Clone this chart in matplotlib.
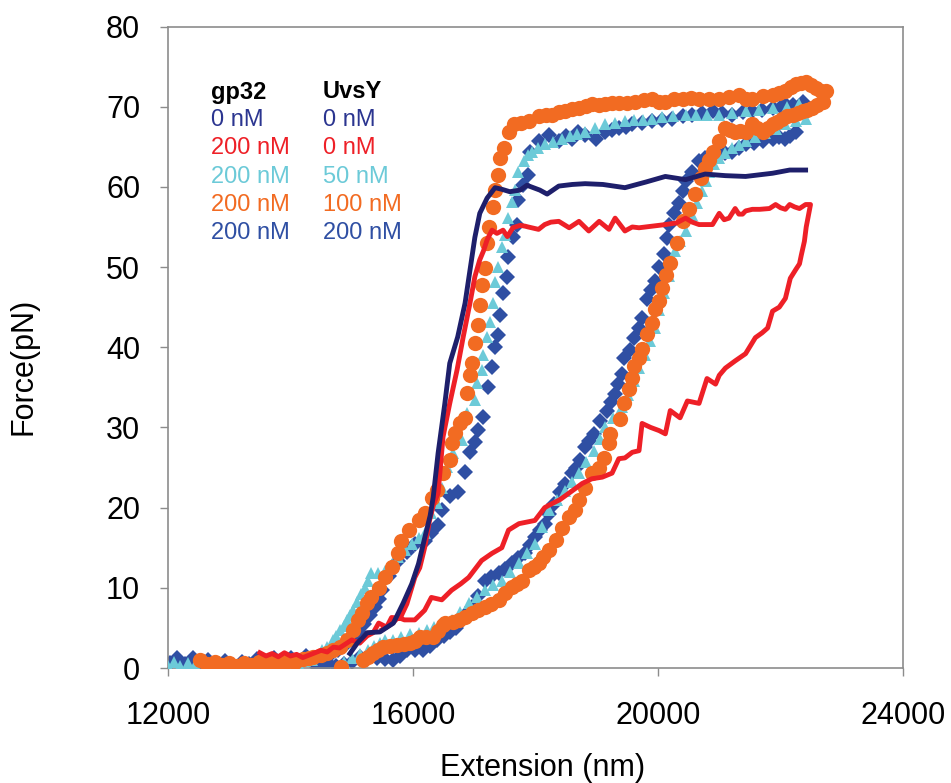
import matplotlib
matplotlib.use("Agg")
import matplotlib.pyplot as plt

plt.rcParams['font.family'] = ['Liberation Sans', 'DejaVu Sans']

# ---------------- data ----------------
# gp32 0 nM / UvsY 0 nM (navy line)
navy_x = [14970, 15090, 15250, 15460, 15680, 15840, 15980, 16090, 16200, 16280, 16330, 16410,
          16520, 16600, 16730, 16850, 16930, 17010, 17090, 17210, 17340, 17450, 17580, 17750,
          17860, 18070, 18190, 18380, 18600, 18810, 19100, 19460, 19800, 20120, 20450, 20770,
          21100, 21430, 21870, 22150, 22410]
navy_y = [1.8, 3.1, 4.4, 4.5, 5.6, 8.1, 10.5, 13.0, 16.5, 19.0, 21.3, 26.8,
          33.0, 38.0, 41.3, 45.5, 49.6, 53.7, 56.7, 58.6, 59.9, 59.7, 59.4, 59.6,
          60.2, 59.6, 59.1, 60.1, 60.3, 60.4, 60.3, 59.9, 60.6, 61.3, 60.9, 61.6,
          61.4, 61.3, 61.7, 62.1, 62.1]

# gp32 200 nM / UvsY 0 nM (red line)
red_x = [13500, 13600, 13700, 13800, 13900, 14000, 14100, 14200, 14300, 14400, 14500, 14600,
         14700, 14800, 14900, 15000, 15130, 15250, 15350, 15440, 15570, 15650, 15790, 15900,
         16030, 16110, 16190, 16270, 16340, 16410, 16490, 16600, 16720, 16820, 16930, 17010,
         17090, 17150, 17210, 17290, 17370, 17470, 17540, 17630, 17750, 17830, 17880, 18050,
         18150, 18250, 18380, 18550, 18710, 18870, 19040, 19200, 19300, 19460, 19580, 19690,
         19900, 20120, 20300, 20450, 20560, 20670, 20890, 21000, 21080, 21160, 21260, 21320,
         21380, 21430, 21540, 21660, 21820, 21920, 22000, 22080, 22150, 22230, 22310, 22410,
         22490,
         22470, 22420, 22390, 22340, 22310, 22250, 22160, 22080, 21980, 21870, 21790, 21700,
         21590, 21430, 21260, 21100, 21000, 20940, 20800, 20670, 20480, 20360, 20200, 20120,
         20020, 19880, 19740, 19690, 19580, 19460, 19360, 19250, 19090, 18920, 18760, 18600,
         18400, 18220, 18150, 17990, 17730, 17560, 17450, 17290, 17120, 16910, 16780, 16630,
         16470, 16300, 16190, 16030, 15860, 15760, 15650, 15500]
red_y = [1.9, 1.5, 1.8, 1.4, 1.9, 1.5, 1.7, 1.3, 1.6, 1.9, 2.2, 2.0,
         2.6, 2.5, 3.0, 3.5, 3.1, 4.0, 4.4, 5.6, 5.1, 6.3, 6.2, 8.0,
         11.3, 12.5, 15.0, 18.4, 20.5, 21.8, 28.8, 33.0, 37.2, 41.3, 45.5, 48.8,
         50.9, 52.0, 53.4, 54.6, 54.2, 54.6, 53.8, 54.9, 55.2, 55.1, 55.0, 54.7,
         55.3, 55.6, 55.7, 54.9, 55.7, 54.5, 55.7, 54.7, 56.1, 54.5, 55.0, 54.9,
         55.1, 55.3, 55.5, 56.1, 55.6, 55.3, 55.3, 56.7, 55.9, 56.1, 57.3, 56.6,
         56.6, 57.0, 57.2, 57.2, 57.3, 57.8, 57.4, 57.2, 57.8, 57.5, 57.3, 57.8,
         57.8,
         57.0, 55.0, 53.2, 51.5, 50.4, 49.7, 48.6, 46.1, 45.0, 44.5, 42.4, 41.8,
         41.2, 39.2, 38.3, 37.4, 36.5, 35.4, 36.1, 33.0, 33.3, 31.2, 32.1, 29.2,
         29.6, 30.0, 30.5, 27.1, 26.9, 26.2, 26.1, 24.3, 23.8, 23.6, 23.0, 22.1,
         21.0, 20.3, 20.0, 18.4, 18.0, 17.2, 15.0, 14.3, 13.4, 11.3, 10.5, 9.7,
         8.5, 8.8, 7.2, 6.0, 6.0, 6.3, 5.5, 4.8]

# gp32 200 nM / UvsY 50 nM (cyan triangles)
cyan_x = [12000, 12100, 12200, 12320, 12440, 12560, 12680, 12800, 12920, 13040, 13160, 13280,
          13400, 13520, 13640, 13760, 13880, 14000, 14120, 14240, 14350, 14430, 14520, 14600,
          14690, 14750, 14810, 14870, 14920, 14970, 15020, 15090, 15150, 15210, 15270, 15320,
          15430, 15540, 15650, 15760, 15870, 15980, 16090, 16190, 16300, 16390, 16470, 16550,
          16650, 16800, 16880, 17010, 17040, 17130, 17140, 17210, 17260, 17310, 17340, 17390,
          17450, 17500, 17550, 17620, 17670, 17710, 17810, 17870, 17940, 18040, 18150, 18290,
          18430, 18560, 18680, 18810, 18970, 19140, 19300, 19460, 19600, 19750, 19900, 20060,
          20250, 20450, 20620, 20800, 21000, 21200, 21430, 21650, 21870, 22100, 22310,
          22410, 22250, 22080, 21920, 21750, 21590, 21430, 21320, 21210, 21100, 21000, 20920,
          20840, 20780, 20720, 20640, 20560, 20450, 20360, 20280, 20180, 20100, 20020, 19950,
          19870, 19780, 19690, 19600, 19510, 19410, 19270, 19140, 19050, 18950, 18830, 18710,
          18600, 18480, 18350, 18220, 18100, 17990, 17860, 17730, 17590, 17450, 17310, 17170,
          17040, 16910, 16770, 16630, 16490, 16350, 16230, 16090, 15950, 15810, 15680, 15540,
          15460, 15370, 15270, 15130, 15000, 14880]
cyan_y = [0.2, 0.8, 0.3, 0.6, 0.4, 0.7, 0.3, 0.5, 0.2, 0.6, 0.4, 0.5,
          0.3, 0.6, 0.4, 0.7, 0.5, 0.8, 0.6, 0.9, 1.0, 1.5, 2.2, 2.6,
          3.5, 4.0, 4.7, 5.3, 6.0, 6.6, 7.2, 8.2, 9.2, 10.0, 10.9, 11.8,
          11.9, 12.1, 13.0, 13.8, 14.7, 15.5, 16.2, 16.8, 19.3, 20.6, 22.5, 25.1,
          26.8, 28.4, 31.8, 33.4, 35.5, 37.2, 39.0, 41.3, 43.1, 45.5, 48.1, 50.0,
          52.5, 54.0, 56.1, 58.1, 59.6, 61.8, 63.2, 64.0, 64.4, 64.9, 65.3, 65.6,
          66.0, 66.4, 66.6, 66.9, 67.3, 67.8, 68.0, 68.2, 68.3, 68.4, 68.5, 68.7,
          68.8, 69.0, 69.0, 69.0, 69.0, 69.2, 69.4, 69.6, 69.8, 70.0, 70.3,
          68.5, 68.2, 67.8, 67.2, 66.7, 66.2, 65.7, 65.2, 64.8, 64.2, 63.6, 62.8,
          61.9, 60.7, 59.5, 58.0, 56.5, 54.5, 53.2, 52.0, 48.9, 46.8, 44.6, 42.4,
          40.8, 39.0, 37.4, 35.8, 34.1, 32.5, 31.2, 30.0, 28.5, 27.1, 25.7, 24.3,
          23.2, 22.1, 20.9, 19.7, 17.6, 15.5, 14.3, 13.1, 12.0, 10.9, 10.3, 9.7,
          8.9, 8.1, 7.0, 6.0, 5.5, 5.1, 4.7, 4.4, 4.2, 3.9, 3.5, 3.5,
          3.1, 2.8, 2.2, 1.8, 1.2, 0.8]

# gp32 200 nM / UvsY 100 nM (orange circles)
orange_x = [12520, 12640, 12760, 12880, 13000, 13120, 13240, 13360, 13480, 13600, 13720, 13840,
            13960, 14080, 14200, 14300, 14370, 14500, 14600, 14700, 14810, 14920, 15020, 15100,
            15160, 15250, 15320, 15440, 15540, 15650, 15760, 15810, 15930, 16090, 16190, 16310,
            16390, 16490, 16600, 16630, 16690, 16770, 16850, 16880, 16930, 16960, 17010, 17060,
            17090, 17130, 17180, 17210, 17240, 17310, 17340, 17390, 17420, 17480, 17560, 17650,
            17760, 17890, 18050, 18170, 18270, 18380, 18480, 18600, 18710, 18820, 18920, 19030,
            19140, 19250, 19360, 19490, 19630, 19770, 19900, 20010, 20120, 20260, 20400, 20540,
            20670, 20830, 21000, 21160, 21330, 21440, 21540, 21710, 21870, 21980, 22080, 22170,
            22250, 22330, 22410, 22500, 22580, 22660, 22740,
            22690, 22600, 22520, 22440, 22360, 22280, 22200, 22110, 22030, 21950, 21870, 21790,
            21710, 21620, 21540, 21430, 21340, 21260, 21180, 21100, 21000, 20890, 20830, 20770,
            20700, 20610, 20510, 20400, 20310, 20200, 20130, 20070, 20020, 19950, 19900, 19820,
            19740, 19690, 19610, 19580, 19530, 19450, 19380, 19220, 19200, 19120, 19040, 18920,
            18810, 18710, 18650, 18550, 18430, 18330, 18220, 18130, 18050, 17970, 17890, 17780,
            17690, 17610, 17500, 17400, 17280, 17170, 17060, 16960, 16850, 16750, 16650, 16520,
            16490, 16410, 16330, 16220, 16110, 16030, 15950, 15850, 15740, 15620, 15510, 15430,
            15350, 15260, 15180, 14830]
orange_y = [1.0, 0.5, 0.7, 0.4, 0.6, 0.3, 0.6, 0.4, 0.7, 0.5, 0.8, 0.6,
            0.9, 0.8, 1.1, 1.2, 1.4, 1.6, 1.9, 2.2, 2.6, 3.5, 4.7, 6.0,
            6.9, 8.1, 8.8, 10.0, 11.3, 12.6, 14.3, 15.9, 17.2, 18.4, 19.3, 21.2,
            22.2, 24.3, 25.9, 28.1, 29.3, 30.5, 31.2, 34.3, 36.5, 38.0, 40.5, 42.8,
            45.3, 47.8, 49.9, 53.0, 55.0, 57.5, 59.6, 61.5, 63.6, 64.8, 66.9, 67.8,
            68.0, 68.2, 68.8, 69.0, 69.0, 69.3, 69.4, 69.7, 69.8, 70.1, 70.3, 70.2,
            70.3, 70.5, 70.4, 70.5, 70.6, 70.8, 70.9, 70.6, 70.6, 70.9, 71.0, 71.1,
            71.0, 71.0, 71.0, 71.2, 71.5, 71.0, 71.0, 71.3, 71.5, 71.7, 71.9, 72.4,
            72.8, 72.9, 73.1, 72.7, 72.3, 72.0, 71.9,
            70.6, 70.2, 69.8, 69.6, 69.4, 69.2, 69.0, 68.8, 68.5, 68.1, 67.8, 67.4,
            66.9, 67.4, 67.8, 66.9, 67.0, 66.9, 67.1, 67.3, 65.7, 64.4, 63.4, 62.3,
            61.1, 59.1, 57.3, 55.7, 53.0, 50.5, 49.0, 47.4, 45.8, 44.8, 43.0, 41.7,
            39.8, 38.7, 37.7, 36.2, 34.8, 33.0, 31.1, 29.2, 28.0, 26.2, 25.0, 24.3,
            22.4, 20.9, 19.7, 18.8, 17.5, 16.0, 14.7, 13.9, 13.1, 12.6, 12.2, 10.9,
            10.5, 10.1, 9.3, 8.5, 8.0, 7.6, 7.2, 6.8, 6.4, 6.0, 5.7, 5.6,
            5.4, 4.6, 3.9, 3.9, 3.9, 3.4, 3.1, 3.0, 2.9, 2.7, 2.6, 2.2,
            1.9, 1.4, 1.0, 0.1]

# gp32 200 nM / UvsY 200 nM (blue diamonds)
blue_x = [12030, 12150, 12280, 12400, 12530, 12660, 12800, 12930, 13060, 13200, 13330, 13460,
          13600, 13730, 13860, 14000, 14130, 14260, 14400, 14530, 14660, 14780, 14900, 15000,
          15100, 15200, 15300, 15380, 15440, 15490, 15600, 15760, 15900, 16030, 16190, 16300,
          16400, 16470, 16600, 16730, 16850, 16930, 17010, 17060, 17140, 17220, 17290, 17340,
          17390, 17420, 17470, 17530, 17550, 17630, 17700, 17710, 17800, 17880, 17910, 18050,
          18220, 18380, 18500, 18600, 18700, 18810, 18980, 19140, 19250, 19360, 19470, 19580,
          19740, 19900, 20060, 20230, 20400, 20560, 20720, 20890, 21050, 21210, 21380, 21540,
          21700, 21870, 22000, 22080, 22200, 22360,
          22250, 22150, 22080, 21970, 21870, 21710, 21570, 21430, 21320, 21210, 21100, 21000,
          20880, 20770, 20670, 20560, 20450, 20400, 20350, 20260, 20180, 20150, 20100, 20020,
          19950, 19880, 19820, 19740, 19690, 19610, 19550, 19450, 19410, 19350, 19300, 19230,
          19170, 19050, 18950, 18880, 18810, 18730, 18660, 18600, 18480, 18400, 18300, 18220,
          18150, 18070, 17990, 17910, 17830, 17720, 17610, 17500, 17400, 17280, 17170, 17060,
          16960, 16880, 16800, 16700, 16600, 16500, 16390, 16280, 16160, 16030, 15900, 15790,
          15680, 15540, 15410, 15270, 15130, 15000, 14870, 14750, 14620, 14500, 14380]
blue_y = [0.6, 1.3, 0.5, 1.2, 0.4, 1.0, 0.4, 0.9, 0.3, 0.8, 0.5, 1.1,
          0.6, 1.2, 0.7, 1.3, 0.5, 1.5, 0.8, 1.4, 1.8, 2.3, 3.0, 3.8,
          4.6, 5.5, 6.6, 7.6, 8.6, 9.7, 11.5, 13.4, 14.5, 15.5, 15.9, 16.8,
          17.8, 19.7, 21.5, 21.9, 24.4, 26.9, 28.2, 29.7, 31.3, 35.0, 37.5, 40.0,
          41.5, 44.0, 46.8, 48.8, 51.2, 53.7, 55.2, 58.4, 60.2, 61.5, 64.4, 65.7,
          66.5, 65.7, 66.3, 66.0, 66.8, 66.5, 66.0, 66.9, 67.1, 67.3, 67.5, 67.8,
          68.0, 68.2, 68.3, 68.5, 68.8, 69.0, 69.2, 69.4, 69.2, 69.0, 69.3, 69.4,
          69.6, 69.8, 70.0, 70.3, 70.2, 70.6,
          66.9, 66.3, 66.0, 66.2, 66.0, 65.7, 65.5, 65.3, 64.8, 64.4, 64.2, 64.0,
          63.8, 63.6, 63.2, 61.9, 60.7, 59.5, 58.0, 56.7, 55.3, 53.6, 51.6, 50.0,
          48.3, 47.2, 46.0, 43.7, 42.4, 41.2, 39.6, 38.7, 36.7, 35.4, 34.2, 33.2,
          32.1, 30.8, 29.2, 28.3, 27.5, 25.9, 25.0, 24.3, 23.0, 22.0, 20.5, 19.2,
          18.0, 17.2, 16.3, 15.3, 14.3, 13.7, 13.1, 12.4, 11.8, 11.3, 10.9, 9.0,
          7.6, 6.8, 6.0, 5.0, 4.5, 4.0, 3.5, 2.8, 2.2, 2.2, 2.2, 1.5,
          1.0, 1.1, 1.2, 1.3, 1.4, 0.8, 0.5, 0.2, 0.6, 0.1, 0.5]

x_ticks = [12000, 16000, 20000, 24000]
y_ticks = [0, 10, 20, 30, 40, 50, 60, 70, 80]

legend_gp32 = ["0 nM", "200 nM", "200 nM", "200 nM", "200 nM"]
legend_uvsy = ["0 nM", "0 nM", "50 nM", "100 nM", "200 nM"]

# ---------------- style ----------------
c_navy = "#1e1f6b"
c_red = "#ee2027"
c_cyan = "#6ccad8"
c_orange = "#f26b22"
c_blue = "#2f4fa3"
legend_colors = ["#2b3590", c_red, c_cyan, c_orange, c_blue]
frame = "#8c8c8c"

fig = plt.figure(figsize=(9.51, 7.83), dpi=100)
ax = fig.add_axes([168 / 951, 1 - 668 / 783, 735 / 951, (668 - 26.5) / 783])

ax.plot(blue_x, blue_y, linestyle='none', marker='D', markersize=8.3, color=c_blue,
        markeredgewidth=0, zorder=2)
ax.plot(cyan_x, cyan_y, linestyle='none', marker='^', markersize=9, color=c_cyan,
        markeredgewidth=0, zorder=3)
ax.plot(orange_x, orange_y, linestyle='none', marker='o', markersize=11, color=c_orange,
        markeredgewidth=0, zorder=4)
ax.plot(red_x, red_y, color=c_red, linewidth=3.5, zorder=5, solid_joinstyle='round')
ax.plot(navy_x, navy_y, color=c_navy, linewidth=3.5, zorder=6, solid_joinstyle='round')

ax.set_xlim(12000, 24000)
ax.set_ylim(0, 80)
ax.set_xticks(x_ticks)
ax.set_yticks(y_ticks)
ax.set_xticklabels([str(v) for v in x_ticks])
ax.set_yticklabels([str(v) for v in y_ticks])
ax.tick_params(axis='both', direction='out', length=6, width=1, color=frame,
               labelsize=22, labelcolor='black')
ax.tick_params(axis='y', pad=14)
ax.tick_params(axis='x', pad=18)
for s in ax.spines.values():
    s.set_color(frame)
    s.set_linewidth(1.2)

ax.set_xlabel("Extension (nm)", fontsize=22)
ax.xaxis.set_label_coords(0.509, -0.132)
ax.set_ylabel("Force(pN)", fontsize=22)
ax.yaxis.set_label_coords(-0.176, 0.47)

# legend as text block
x1 = (211 - 168) / 735
x2 = (323 - 168) / 735
rows_px = [120, 148, 177, 205, 233]
ax.text(x1, (668 - 92) / 641.5, "gp32", transform=ax.transAxes, fontsize=17,
        fontweight='bold', va='center', ha='left')
ax.text(x2, (668 - 92) / 641.5, "UvsY", transform=ax.transAxes, fontsize=17,
        fontweight='bold', va='center', ha='left')
for g, u, c, r in zip(legend_gp32, legend_uvsy, legend_colors, rows_px):
    yy = (668 - r) / 641.5
    ax.text(x1, yy, g, transform=ax.transAxes, fontsize=17, color=c, va='center', ha='left')
    ax.text(x2, yy, u, transform=ax.transAxes, fontsize=17, color=c, va='center', ha='left')

fig.savefig("out.png", dpi=100)
